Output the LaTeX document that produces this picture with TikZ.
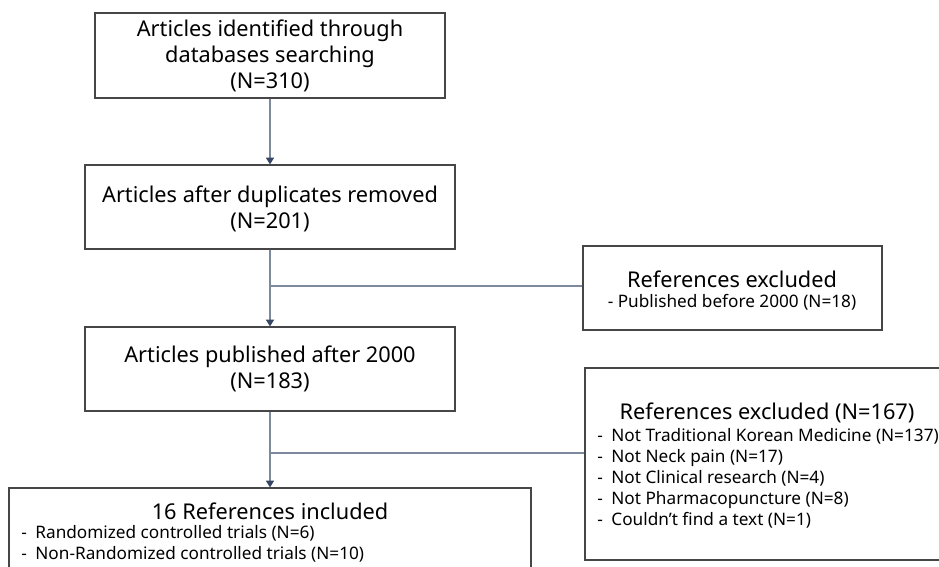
\documentclass[tikz,border=0pt]{standalone}
\usepackage{fontspec}
\setmainfont{Noto Sans}
\usetikzlibrary{positioning, calc, arrows.meta}

\definecolor{boxline}{RGB}{70,70,70}
\definecolor{linkline}{RGB}{125,138,158}
\definecolor{tipcol}{RGB}{55,70,100}

\tikzset{
  flowbox/.style={draw=boxline, line width=0.9pt, inner sep=0pt},
  link/.style={draw=linkline, line width=0.9pt},
  linkarrow/.style={link, -{Triangle[width=6pt,length=5pt,color=tipcol]}},
  headtxt/.style={inner sep=0.75pt, font=\fontsize{16.3}{19.5}\selectfont, align=center},
  itemtxt/.style={inner sep=0.75pt, font=\fontsize{12.9}{15.75}\selectfont, align=left},
}

\begin{document}
\begin{tikzpicture}[x=0.75pt,y=0.75pt,yscale=-1,xscale=1]
\useasboundingbox (0,0) rectangle (939,567);

%Shape: Rectangle [id:search]
\node [flowbox, minimum width=262.5pt, minimum height=63.75pt] (search) at (270,55.5) {};
%Shape: Rectangle [id:dedup]
\node [flowbox, minimum width=277.5pt, minimum height=63pt] (dedup) at (270,207) {};
%Shape: Rectangle [id:exclA]
\node [flowbox, minimum width=224.25pt, minimum height=63pt] (exclA) at (732.5,288) {};
%Shape: Rectangle [id:after]
\node [flowbox, minimum width=277.5pt, minimum height=63pt] (after) at (270,369) {};
%Shape: Rectangle [id:exclB]
\node [flowbox, minimum width=273.75pt, minimum height=144pt] (exclB) at (767.5,464) {};
%Shape: Rectangle [id:incl]
\node [flowbox, minimum width=391.5pt, minimum height=84pt] (incl) at (270,544) {};

%Straight Lines [id:links]
\coordinate (brA) at (270,286);
\coordinate (brB) at (270,453);
\draw [linkarrow] (search.south) -- (dedup.north);
\draw [linkarrow] (dedup.south) -- (after.north);
\draw [link] (brA) -- (brA -| exclA.west);
\draw [linkarrow] (after.south) -- (incl.north);
\draw [link] (brB) -- (brB -| exclB.west);

% Text Node
\node [headtxt] (searchtxt) at (270,56) {Articles identified through\\databases searching\\(N=310)};
% Text Node
\node [headtxt] (deduptxt) at (270,208.5) {Articles after duplicates removed\\(N=201)};
% Text Node
\node [headtxt] (aftertxt) at (270,369) {Articles published after 2000\\(N=183)};
% Text Node
\node [headtxt] (exclAhead) at (732,279) {References excluded};
\node [itemtxt] (exclAitem) at (732,302) {- Published before 2000 (N=18)};
% Text Node
\node [headtxt] (exclBhead) at (767,413) {References excluded (N=167)};
\node [itemtxt, anchor=west] (exclBitem) at (596,478.5) {-\enskip Not Traditional Korean Medicine (N=137)\\-\enskip Not Neck pain (N=17)\\-\enskip Not Clinical research (N=4)\\-\enskip Not Pharmacopuncture (N=8)\\-\enskip Couldn't find a text (N=1)};
% Text Node
\node [headtxt] (incltxt) at (270,511) {16 References included};
\node [itemtxt, anchor=west] (inclitem) at (20,544) {-\enskip Randomized controlled trials (N=6)\\-\enskip Non-Randomized controlled trials (N=10)};
\end{tikzpicture}
\end{document}
